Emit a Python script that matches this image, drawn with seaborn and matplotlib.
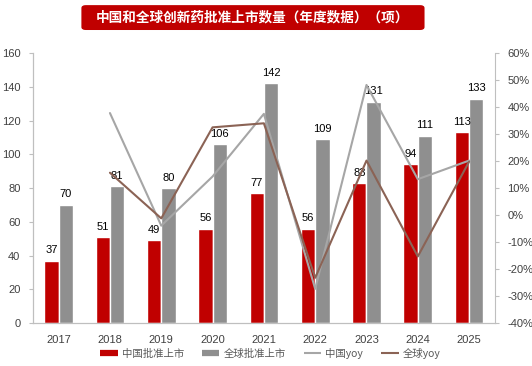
import pandas as pd
import matplotlib.pyplot as plt
import seaborn as sns
from matplotlib.lines import Line2D
from matplotlib.patches import FancyBboxPatch
from matplotlib.ticker import PercentFormatter

# Data
years = [2017, 2018, 2019, 2020, 2021, 2022, 2023, 2024, 2025]
china_approved = [37, 51, 49, 56, 77, 56, 83, 94, 113]
global_approved = [70, 81, 80, 106, 142, 109, 131, 111, 133]
yoy_years = [2018, 2019, 2020, 2021, 2022, 2023, 2024, 2025]
china_yoy = [0.378, -0.039, 0.143, 0.375, -0.273, 0.482, 0.133, 0.202]
global_yoy = [0.157, -0.012, 0.325, 0.340, -0.232, 0.202, -0.153, 0.198]

series_names = ["中国批准上市", "全球批准上市"]
line_names = ["中国yoy", "全球yoy"]
title = "中国和全球创新药批准上市数量（年度数据）（项）"

RED = "#C00000"
GRAY = "#8F8F8F"
LGRAY = "#A6A6A6"
BROWN = "#8B6355"
SPINE = "#BFBFBF"

sns.set_style("white")
plt.rcParams["font.family"] = ["Liberation Sans", "Noto Sans CJK SC", "DejaVu Sans"]
plt.rcParams["axes.unicode_minus"] = False

bars = pd.DataFrame({"year": years, series_names[0]: china_approved, series_names[1]: global_approved})
bars = bars.melt(id_vars="year", var_name="series", value_name="count")

fig = plt.figure(figsize=(5.32, 3.66), dpi=100)
ax = fig.add_axes([0.062, 0.117, 0.868, 0.738])

sns.barplot(data=bars, x="year", y="count", hue="series", hue_order=series_names,
            palette=[RED, GRAY], width=0.56, gap=0, saturation=1, ax=ax, legend=False)
for cont in ax.containers:
    ax.bar_label(cont, padding=4, fontsize=8, color="#000000")

ax.set_ylim(0, 160)
ax.set_yticks(range(0, 161, 20))
ax.set_xlabel("")
ax.set_ylabel("")

ax2 = ax.twinx()
pos = [y - years[0] for y in yoy_years]
sns.lineplot(x=pos, y=china_yoy, ax=ax2, color=LGRAY, linewidth=1.5)
sns.lineplot(x=pos, y=global_yoy, ax=ax2, color=BROWN, linewidth=1.5)
ax2.set_ylim(-0.4, 0.6)
ax2.set_yticks([i / 10 for i in range(-4, 7)])
ax2.yaxis.set_major_formatter(PercentFormatter(1.0, decimals=0))
ax2.set_ylabel("")
ax.set_xlim(-0.5, len(years) - 0.5)
ax.set_xticks(range(len(years)))
ax.set_xticklabels([str(y) for y in years])

for a in (ax, ax2):
    for s in a.spines.values():
        s.set_color(SPINE)
        s.set_linewidth(0.8)
    a.spines["top"].set_visible(False)
    a.tick_params(labelsize=8, colors="#404040")
ax.spines["right"].set_visible(False)
ax.tick_params(axis="y", left=True, length=3, color=SPINE, pad=6)
ax.tick_params(axis="x", bottom=False, pad=5)
ax2.tick_params(axis="y", right=True, length=3, color=SPINE, pad=6)

# title box
box = FancyBboxPatch((0.153, 0.918), 0.645, 0.068, boxstyle="round,pad=0,rounding_size=0.008",
                     transform=fig.transFigure, facecolor=RED, edgecolor="none")
fig.patches.append(box)
fig.text(0.475, 0.951, title, ha="center", va="center", color="white",
         fontsize=9.8, fontweight="bold", family=["Noto Sans CJK SC", "DejaVu Sans"])

handles = [Line2D([], [], color=RED, linewidth=4.5, solid_capstyle="butt"),
           Line2D([], [], color=GRAY, linewidth=4.5, solid_capstyle="butt"),
           Line2D([], [], color=LGRAY, linewidth=1.5, solid_capstyle="butt"),
           Line2D([], [], color=BROWN, linewidth=1.5, solid_capstyle="butt")]
fig.legend(handles, series_names + line_names, loc="center", bbox_to_anchor=(0.508, 0.035),
           ncol=4, frameon=False, handlelength=1.7, columnspacing=1.7,
           handletextpad=0.4, prop={"family": ["Noto Sans CJK SC", "DejaVu Sans"], "size": 7.5})
for t in fig.legends[0].get_texts():
    t.set_color("#595959")

fig.savefig("out.png", dpi=100)
